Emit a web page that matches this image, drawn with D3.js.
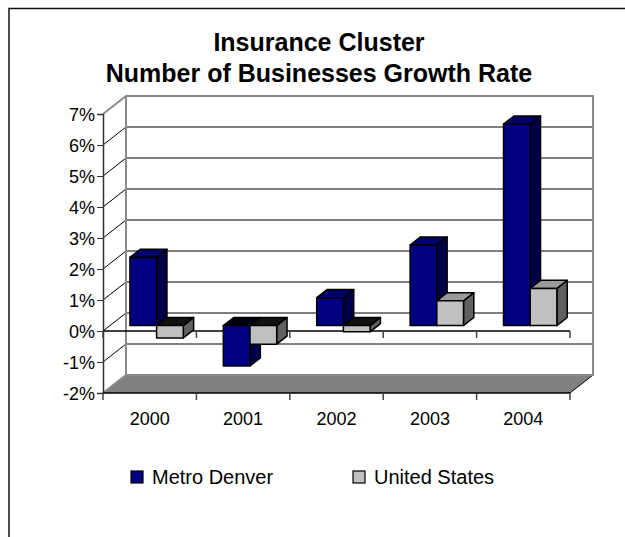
<!DOCTYPE html>
<html>
<head>
<meta charset="utf-8">
<script src="https://cdn.jsdelivr.net/npm/d3@7"></script>
<style>
  body { margin: 0; background: #fff; }
  text { font-family: Arial, "Liberation Sans", sans-serif; }
</style>
</head>
<body>
<div id="chart"></div>
<script>
// chart data
var years = ["2000", "2001", "2002", "2003", "2004"];
var seriesNames = ["Metro Denver", "United States"];
var metroDenver = [2.2, -1.3, 0.9, 2.6, 6.5];
var unitedStates = [-0.4, -0.6, -0.2, 0.8, 1.2];
var yTicks = [-2, -1, 0, 1, 2, 3, 4, 5, 6, 7];
var titleLines = ["Insurance Cluster", "Number of Businesses Growth Rate"];

var svgWidth = 625, svgHeight = 537;
var plot = { left: 103, right: 570, top: 114, bottom: 393 };
var depth = { dx: 23, dy: -18 };       // full wall depth
var barZ = [0.3, 0.75];                // bar front / back as fraction of depth

var colors = {
    "Metro Denver": { front: "#000080", top: "#00006a", side: "#000048", under: "#000010" },
    "United States": { front: "#c0c0c0", top: "#9a9a9a", side: "#606060", under: "#111111" }
};

var svg = d3.select("#chart").append("svg")
    .attr("width", svgWidth)
    .attr("height", svgHeight);

// outer frame (runs off the right and bottom edges)
svg.append("path")
    .attr("d", "M9,537 L9,8.5 L625,8.5")
    .attr("fill", "none")
    .attr("stroke", "#111")
    .attr("stroke-width", 1.5);

// title
svg.selectAll(".title")
    .data(titleLines)
    .enter().append("text")
    .attr("class", "title")
    .attr("x", 319)
    .attr("y", function(d, i) { return 51 + i * 31; })
    .attr("text-anchor", "middle")
    .attr("font-size", "25px")
    .attr("font-weight", "bold")
    .text(function(d) { return d; });

// scales
var x0 = d3.scaleBand()
    .domain(years)
    .range([plot.left, plot.right]);

var x1 = d3.scaleBand()
    .domain(seriesNames)
    .range([0, x0.bandwidth()])
    .paddingOuter(0.75);

var y = d3.scaleLinear()
    .domain([-2, 7])
    .range([plot.bottom, plot.top]);

function px(x, z) { return x + z * depth.dx; }
function py(yv, z) { return yv + z * depth.dy; }
function pts(arr) { return arr.map(function(p) { return p.join(","); }).join(" "); }

// floor
svg.append("polygon")
    .attr("points", pts([
        [plot.left, y(-2)], [plot.right, y(-2)],
        [px(plot.right, 1), py(y(-2), 1)], [px(plot.left, 1), py(y(-2), 1)]
    ]))
    .attr("fill", "#808080");

svg.append("line")
    .attr("x1", plot.right).attr("y1", y(-2))
    .attr("x2", px(plot.right, 1)).attr("y2", py(y(-2), 1))
    .attr("stroke", "#000").attr("stroke-width", 1);

// back wall gridlines
var grid = svg.append("g").attr("class", "grid");

grid.selectAll(".gridBack")
    .data(yTicks.filter(function(d) { return d > -2 && d < 7; }))
    .enter().append("line")
    .attr("x1", px(plot.left, 1))
    .attr("x2", px(plot.right, 1))
    .attr("y1", function(d) { return py(y(d), 1); })
    .attr("y2", function(d) { return py(y(d), 1); })
    .attr("stroke", "#000").attr("stroke-width", 1);

// side wall gridlines
grid.selectAll(".gridSide")
    .data(yTicks.filter(function(d) { return d > -2 && d < 7; }))
    .enter().append("line")
    .attr("x1", plot.left)
    .attr("x2", px(plot.left, 1))
    .attr("y1", function(d) { return y(d); })
    .attr("y2", function(d) { return py(y(d), 1); })
    .attr("stroke", "#000").attr("stroke-width", 1);

// wall borders
svg.append("path")
    .attr("d", "M" + plot.left + "," + y(7) +
        " L" + px(plot.left, 1) + "," + py(y(7), 1) +
        " L" + px(plot.right, 1) + "," + py(y(7), 1) +
        " L" + px(plot.right, 1) + "," + py(y(-2), 1) +
        " L" + px(plot.left, 1) + "," + py(y(-2), 1) +
        " L" + plot.left + "," + y(-2) +
        " M" + px(plot.left, 1) + "," + py(y(7), 1) +
        " L" + px(plot.left, 1) + "," + py(y(-2), 1))
    .attr("fill", "none")
    .attr("stroke", "#8a8a8a")
    .attr("stroke-width", 2);

// y axis
var yAxis = d3.axisLeft(y)
    .tickValues(yTicks)
    .tickSize(6)
    .tickFormat(function(d) { return d + "%"; });

var yAxisGroup = svg.append("g")
    .attr("class", "y-axis")
    .attr("transform", "translate(" + plot.left + ",0)")
    .call(yAxis);
yAxisGroup.select(".domain").attr("stroke", "#333").attr("stroke-width", 1.5);
yAxisGroup.selectAll(".tick line").attr("stroke", "#333");
yAxisGroup.selectAll(".tick text")
    .attr("font-size", "18px")
    .attr("fill", "#000")
    .attr("x", -8)
    .attr("dy", "0.36em")
    .style("font-family", "Arial, 'Liberation Sans', sans-serif");

// category axes: one at zero, one at the bottom with labels
var boundaries = years.map(function(d) { return x0(d); }).concat([plot.right]);

function catAxis(yPos, labels) {
    var g = svg.append("g").attr("class", "x-axis");
    g.append("line")
        .attr("x1", plot.left).attr("x2", plot.right)
        .attr("y1", yPos).attr("y2", yPos)
        .attr("stroke", "#000").attr("stroke-width", 1.5);
    g.selectAll(".tick")
        .data(boundaries)
        .enter().append("line")
        .attr("x1", function(d) { return d; })
        .attr("x2", function(d) { return d; })
        .attr("y1", yPos).attr("y2", yPos + 7)
        .attr("stroke", "#444").attr("stroke-width", 1.5);
    if (labels) {
        g.selectAll(".label")
            .data(years)
            .enter().append("text")
            .attr("x", function(d) { return x0(d) + x0.bandwidth() / 2; })
            .attr("y", yPos + 32)
            .attr("text-anchor", "middle")
            .attr("font-size", "18px")
            .text(function(d) { return d; });
    }
}
catAxis(y(0), false);
catAxis(y(-2), true);

// bars
var barData = [];
years.forEach(function(yr, i) {
    barData.push({ year: yr, series: "Metro Denver", value: metroDenver[i] });
    barData.push({ year: yr, series: "United States", value: unitedStates[i] });
});

var bars = svg.append("g").attr("class", "bars")
    .selectAll("g")
    .data(barData)
    .enter().append("g");

bars.each(function(d) {
    var g = d3.select(this);
    var c = colors[d.series];
    var xl = x0(d.year) + x1(d.series);
    var xr = xl + x1.bandwidth();
    var yHi = y(Math.max(d.value, 0));
    var yLo = y(Math.min(d.value, 0));
    var z0 = barZ[0], z1 = barZ[1];

    // right side
    g.append("polygon")
        .attr("points", pts([
            [px(xr, z0), py(yHi, z0)], [px(xr, z1), py(yHi, z1)],
            [px(xr, z1), py(yLo, z1)], [px(xr, z0), py(yLo, z0)]
        ]))
        .attr("fill", c.side)
        .attr("stroke", "#000").attr("stroke-width", 1.5).attr("stroke-linejoin", "round");

    // top (for negative bars it is the zero cap)
    g.append("polygon")
        .attr("points", pts([
            [px(xl, z0), py(yHi, z0)], [px(xr, z0), py(yHi, z0)],
            [px(xr, z1), py(yHi, z1)], [px(xl, z1), py(yHi, z1)]
        ]))
        .attr("fill", d.value >= 0 ? c.top : c.under)
        .attr("stroke", "#000").attr("stroke-width", 1.5).attr("stroke-linejoin", "round");

    // front
    g.append("polygon")
        .attr("points", pts([
            [px(xl, z0), py(yHi, z0)], [px(xr, z0), py(yHi, z0)],
            [px(xr, z0), py(yLo, z0)], [px(xl, z0), py(yLo, z0)]
        ]))
        .attr("fill", c.front)
        .attr("stroke", "#000").attr("stroke-width", 1.5).attr("stroke-linejoin", "round");
});

// legend
var legendX = [131, 353];
var legend = svg.append("g").attr("class", "legend")
    .selectAll("g")
    .data(seriesNames)
    .enter().append("g")
    .attr("transform", function(d, i) { return "translate(" + legendX[i] + ",471)"; });

legend.append("rect")
    .attr("width", 12).attr("height", 12)
    .attr("fill", function(d) { return colors[d].front; })
    .attr("stroke", "#000").attr("stroke-width", 1.2);

legend.append("text")
    .attr("x", 21)
    .attr("y", 13)
    .attr("font-size", "20px")
    .text(function(d) { return d; });
</script>
</body>
</html>
